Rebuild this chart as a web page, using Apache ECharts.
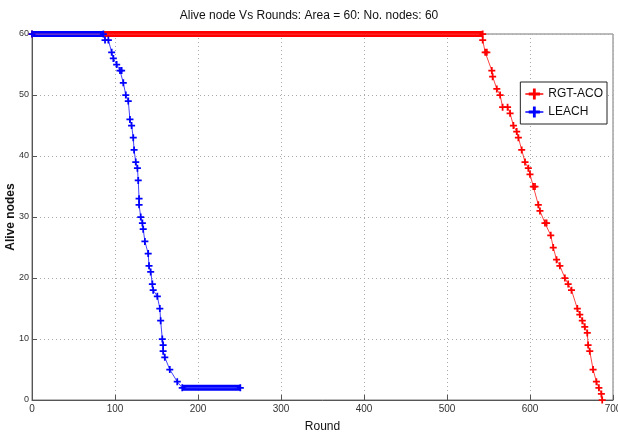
<!DOCTYPE html>
<html>
<head>
<meta charset="utf-8">
<script src="https://cdn.jsdelivr.net/npm/echarts@6/dist/echarts.min.js"></script>
<style>
  html, body { margin: 0; padding: 0; background: #fff; }
  #chart { width: 618px; height: 433px; }
</style>
</head>
<body>
<div id="chart"></div>
<script>
  // readings: [round, alive nodes]
  const rgtAco = [
    [0, 60], [543, 60], [543, 59], [546, 57], [548, 57], [554, 54], [555, 53],
    [560, 51], [564, 50], [567, 48], [573, 48], [576, 47], [580, 45], [584, 44],
    [586, 43], [590, 41], [594, 39], [598, 38], [600, 37], [604, 35], [606, 35],
    [610, 32], [612, 31], [618, 29], [620, 29], [625, 27], [628, 25], [632, 23],
    [636, 22], [642, 20], [646, 19], [650, 18], [657, 15], [660, 14], [663, 13],
    [666, 12], [669, 11], [670, 9], [672, 8], [676, 5], [680, 3], [683, 2],
    [686, 1], [687, 0]
  ];
  const leach = [
    [0, 60], [86, 60], [88, 59], [92, 59], [96, 57], [98, 56], [102, 55],
    [106, 54], [108, 54], [110, 52], [113, 50], [116, 49], [118, 46], [120, 45],
    [122, 43], [123, 41], [125, 39], [127, 38], [128, 36], [129, 33], [129, 32],
    [131, 30], [133, 29], [134, 28], [136, 26], [140, 24], [141, 22], [143, 21],
    [145, 19], [146, 18], [151, 17], [154, 15], [155, 13], [157, 10], [158, 9],
    [158, 8], [160, 7], [166, 5], [175, 3], [181, 2], [251, 2]
  ];
  // flat stretches where the markers sit on every round and merge into a band
  const rgtAcoBand = [[0, 60], [543, 60]];
  const leachBand = [[0, 60], [86, 60]];
  const leachTailBand = [[181, 2], [251, 2]];

  const plus = 'path://M3,0H5V3H8V5H5V8H3V5H0V3H3Z';
  const narrow = '"Liberation Sans Narrow", "Liberation Sans", Arial, sans-serif';

  const chart = echarts.init(document.getElementById('chart'));

  function band(name, data, color) {
    return {
      name: name,
      type: 'line',
      data: data,
      showSymbol: false,
      silent: true,
      lineStyle: { color: color, width: 6 },
      z: 2
    };
  }

  chart.setOption({
    animation: false,
    title: {
      text: 'Alive node Vs Rounds: Area = 60: No. nodes: 60',
      left: 'center',
      top: 5,
      textStyle: { fontSize: 12, fontWeight: 'normal', color: '#111', fontFamily: narrow }
    },
    legend: {
      data: ['RGT-ACO', 'LEACH'],
      orient: 'vertical',
      right: 11,
      top: 82,
      padding: [6, 4, 6, 4],
      itemGap: 6,
      itemWidth: 18,
      itemHeight: 14,
      backgroundColor: '#fff',
      borderColor: '#222',
      borderWidth: 1,
      borderRadius: 0,
      textStyle: { fontSize: 12, color: '#111', fontFamily: 'Arial, "Liberation Sans", sans-serif' }
    },
    grid: {
      left: 32, right: 5, top: 34, bottom: 33,
      outerBoundsMode: 'none',
      containLabel: false,
      show: true, borderColor: '#777', borderWidth: 1, backgroundColor: '#fff'
    },
    xAxis: {
      type: 'value',
      min: 0, max: 700, interval: 100,
      name: 'Round',
      nameLocation: 'middle',
      nameGap: 21,
      nameMoveOverlap: false,
      nameTextStyle: { fontSize: 12, color: '#111', fontFamily: 'Arial, sans-serif' },
      axisLine: { show: true, lineStyle: { color: '#555' } },
      axisTick: { show: true, inside: true, length: 5, lineStyle: { color: '#555' } },
      axisLabel: { fontSize: 10, color: '#333', margin: 4, fontFamily: narrow },
      splitLine: { show: true, lineStyle: { color: '#aaa', type: [1, 3] } }
    },
    yAxis: {
      type: 'value',
      min: 0, max: 60, interval: 10,
      name: 'Alive nodes',
      nameLocation: 'middle',
      nameGap: 15,
      nameMoveOverlap: false,
      nameTextStyle: { fontSize: 12, fontWeight: 'bold', color: '#111', fontFamily: 'Arial, sans-serif' },
      axisLine: { show: true, lineStyle: { color: '#555' } },
      axisTick: { show: true, inside: true, length: 5, lineStyle: { color: '#555' } },
      axisLabel: { fontSize: 9, color: '#333', margin: 3, fontFamily: narrow },
      splitLine: { show: true, lineStyle: { color: '#aaa', type: [1, 3] } }
    },
    series: [
      band('RGT-ACO band', rgtAcoBand, '#ff0000'),
      {
        name: 'RGT-ACO',
        type: 'line',
        data: rgtAco,
        symbol: plus,
        symbolSize: 7,
        itemStyle: { color: '#ff0000' },
        lineStyle: { color: '#ff4444', width: 1 },
        z: 3
      },
      band('LEACH band', leachBand, '#0000ff'),
      band('LEACH tail', leachTailBand, '#0000ff'),
      {
        name: 'LEACH',
        type: 'line',
        data: leach,
        symbol: plus,
        symbolSize: 7,
        itemStyle: { color: '#0000ff' },
        lineStyle: { color: '#4444ff', width: 1 },
        z: 4
      }
    ]
  });
</script>
</body>
</html>
